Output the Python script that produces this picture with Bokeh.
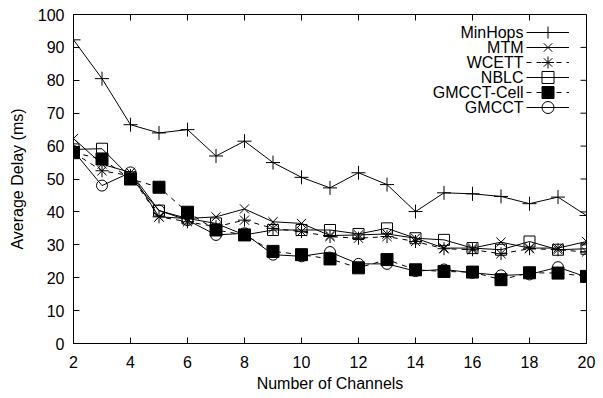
import math
from bokeh.plotting import figure
from bokeh.models import Legend, LegendItem, FixedTicker, Label
from bokeh.embed import file_html
from bokeh.resources import INLINE

channels = list(range(2, 21))
minhops = [92.3, 80.5, 66.5, 64.0, 65.0, 57.0, 61.5, 55.0, 50.5, 47.3, 51.9, 48.3, 40.1, 45.8, 45.5, 44.7, 42.5, 44.5, 38.9]
mtm = [62.3, 54.5, 52.0, 38.5, 38.0, 38.5, 40.9, 37.0, 36.5, 32.8, 33.0, 33.3, 32.0, 29.0, 29.0, 30.8, 29.0, 29.0, 31.0]
wcett = [58.0, 52.5, 51.0, 38.5, 37.0, 35.5, 37.5, 35.0, 34.0, 32.5, 32.0, 32.5, 31.0, 28.8, 28.5, 27.3, 28.8, 28.5, 27.8]
nblc = [59.0, 59.2, 50.5, 40.4, 38.0, 36.5, 33.0, 34.5, 34.5, 34.5, 33.3, 35.0, 32.0, 31.5, 29.0, 28.5, 31.0, 28.5, 28.8]
gmcct_cell = [58.0, 56.1, 50.0, 47.5, 39.9, 34.5, 33.0, 28.0, 27.0, 25.7, 23.0, 25.5, 22.4, 21.9, 21.7, 19.4, 21.5, 21.4, 20.4]
gmcct = [58.5, 48.0, 52.0, 40.4, 37.5, 33.0, 33.5, 27.0, 26.5, 27.8, 24.2, 24.2, 22.0, 22.5, 21.5, 20.7, 21.0, 23.2, 20.2]

series_names = ["MinHops", "MTM", "WCETT", "NBLC", "GMCCT-Cell", "GMCCT"]
x_ticks = [2, 4, 6, 8, 10, 12, 14, 16, 18, 20]
y_ticks = [0, 10, 20, 30, 40, 50, 60, 70, 80, 90, 100]
x_min, x_max = 2, 20
y_min, y_max = 0, 100

FONT = "Liberation Sans"
FS = "16px"

p = figure(width=603, height=398, x_range=(x_min, x_max), y_range=(y_min, y_max),
           output_backend="svg", toolbar_location=None,
           min_border_left=73, min_border_right=17, min_border_top=14, min_border_bottom=55)
p.grid.visible = False
p.outline_line_color = "black"
p.outline_line_width = 1
p.background_fill_color = "white"
p.border_fill_color = "white"

for ax in [p.xaxis[0], p.yaxis[0]]:
    ax.major_tick_in = 6
    ax.major_tick_out = 0
    ax.minor_tick_line_color = None
    ax.axis_line_color = "black"
    ax.major_tick_line_color = "black"
    ax.major_label_text_font = FONT
    ax.major_label_text_font_size = FS
    ax.major_label_text_color = "black"
    ax.axis_label_text_font = FONT
    ax.axis_label_text_font_size = FS
    ax.axis_label_text_font_style = "normal"
    ax.axis_label_text_color = "black"

p.xaxis[0].ticker = FixedTicker(ticks=x_ticks)
p.yaxis[0].ticker = FixedTicker(ticks=y_ticks)
p.xaxis[0].axis_label = "Number of Channels"
p.yaxis[0].axis_label = "Average Delay (ms)"
p.xaxis[0].major_label_standoff = 12
p.yaxis[0].major_label_standoff = 9
p.xaxis[0].axis_label_standoff = 4
p.yaxis[0].axis_label_standoff = 9

# mirrored inward ticks on top and right edges (half of each dash is clipped by the frame)
p.scatter(x_ticks, [y_max] * len(x_ticks), marker="dash", angle=math.pi / 2, size=12,
          line_color="black", line_width=1)
p.scatter([x_max] * len(y_ticks), y_ticks, marker="dash", size=12,
          line_color="black", line_width=1)

data = [minhops, mtm, wcett, nblc, gmcct_cell, gmcct]
markers = ["cross", "x", "asterisk", "square", "square", "circle"]
dashes = ["solid", "solid", "5 5", "solid", "5 5", "solid"]
fills = [None, None, None, None, "black", None]
sizes = [14, 13, 13, 11, 12, 11]

# gnuplot-style key: right-aligned text, then the line sample with its marker
row_px = 15.1
frame_h = 329.0
px_per_y = frame_h / (y_max - y_min)
first_center_from_top = 17.5
glyph_box = 30
sample_left = 453

for i, (name, ys, mk, dash, fill, sz) in enumerate(zip(series_names, data, markers, dashes, fills, sizes)):
    r1 = p.line(channels, ys, line_color="black", line_width=1, line_dash=dash)
    if fill is None:
        r2 = p.scatter(channels, ys, marker=mk, size=sz, line_color="black", line_width=1,
                       fill_alpha=0)
    else:
        r2 = p.scatter(channels, ys, marker=mk, size=sz, line_color="black", line_width=1,
                       fill_color=fill)
    center = first_center_from_top + i * row_px
    vy = frame_h - (center + glyph_box / 2)
    lg = Legend(items=[LegendItem(label="", renderers=[r1, r2])], location=(sample_left, vy),
                label_text_font=FONT, label_text_font_size=FS,
                label_height=glyph_box, label_width=0, label_standoff=0,
                glyph_height=glyph_box, glyph_width=43,
                spacing=0, padding=0, margin=0,
                border_line_color=None, background_fill_alpha=0)
    p.add_layout(lg, "center")
    p.add_layout(Label(x=17.79, y=y_max - center / px_per_y, text=name,
                       text_align="right", text_baseline="middle",
                       text_font=FONT, text_font_size=FS, text_color="black"))

open("out.html", "w").write(file_html(p, INLINE))
